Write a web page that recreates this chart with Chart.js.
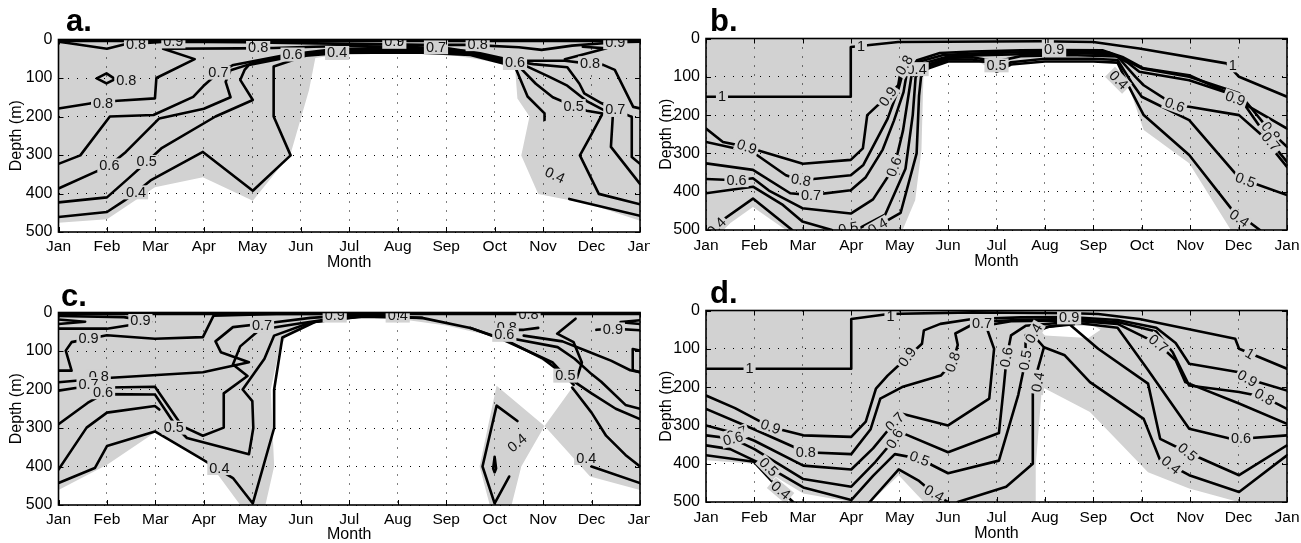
<!DOCTYPE html>
<html><head><meta charset="utf-8">
<script src="https://cdn.jsdelivr.net/npm/chart.js@4.4.1/dist/chart.umd.min.js"></script>
<style>
html,body{margin:0;padding:0;background:#fff;}
#root{position:relative;width:1301px;height:543px;overflow:hidden;background:#fff;}
canvas{position:absolute;}
.lt{position:absolute;font:bold 31px "Liberation Sans",Arial,sans-serif;line-height:30px;color:#000;}
</style></head><body><div id="root"></div>
<script>
// ---------- axis labels ----------
const monthLabels = ['Jan','Feb','Mar','Apr','May','Jun','Jul','Aug','Sep','Oct','Nov','Dec','Jan'];
const depthTicks = [0,100,200,300,400,500];

// ---------- panel a : [month, depth] ----------
const a_white = [[0,500],[0,476],[1,467],[1.99,384],[2.98,358],[4.01,419],[4.79,297],[5.17,131],[5.3,48],[5.9,37],[7,37],[8,38],[8.6,50],[9.42,70],[9.47,153],[9.72,200],[9.55,301],[9.9,401],[10.97,428],[12,471],[12,500]];
const a_top = [[0,2],[12,2]];
const a_c09 = [[0,6],[0.19,9],[1,24],[1.35,13],[2.2,6],[3.8,7],[5.3,10],[6.5,12],[7.5,14],[8.5,14],[9.5,20],[9.97,27],[10.6,16],[11.5,7],[12,6]];
const a_c08 = [[0,179],[0.65,166],[1.22,159],[1.99,153],[2.02,100],[2.81,51],[2.16,24],[3.71,23],[4.43,22],[5.26,19],[6,17],[7,19],[8,22],[8.7,36],[9.4,55],[10.45,55],[10.9,62],[11.24,66],[11.48,79],[11.86,175],[12,179]];
const a_c08b = [[10.45,51],[11.31,23],[10.82,19]];
const a_loop = [[0.79,101],[0.99,88],[1.17,103],[0.99,114],[0.79,101]];
const a_c07 = [[0,323],[0.45,301],[1.06,200],[1.96,196],[2.78,149],[2.99,121],[3.3,86],[3.61,66],[4.71,40],[5.5,28],[6.5,22],[7.5,24],[8.4,30],[9.1,50],[9.8,64],[10.5,72],[10.75,115],[10.85,140],[11.2,165],[11.49,183],[11.83,201],[11.83,305],[12,323]];
const a_c06 = [[0,387],[0.83,340],[1.05,327],[1.39,292],[2.08,205],[3.0,180],[3.55,150],[3.45,110],[3.55,80],[4.0,62],[4.83,39],[5.6,30],[6.5,27],[7.5,28],[8.5,34],[9.2,55],[9.6,66],[10.1,95],[10.5,120],[10.9,160],[11.44,196],[11.4,279],[12,375]];
const a_c05 = [[0,423],[1.0,410],[1.45,360],[1.82,318],[2.12,283],[3.24,200],[4.01,157],[3.75,105],[3.84,79],[3.93,66],[4.9,42],[5.7,33],[6.5,31],[7.5,31],[8.5,38],[9.3,62],[9.5,70],[9.85,115],[10.2,150],[10.63,173],[10.9,185],[11.23,192],[10.97,253],[10.76,301],[11.15,401],[12,428]];
const a_c04 = [[0,461],[1.0,448],[1.35,419],[1.6,397],[1.9,366],[2.98,292],[4.01,393],[4.79,301],[4.44,200],[4.44,70],[5.1,42],[5.8,35],[6.5,34],[7.5,34],[8.5,40],[9.42,70],[9.68,148],[10.03,192],[10.03,209]];
const a_c04b = [[10.54,414],[12,458]];
const a_labels = [['0.8',0.92,166,0],['0.8',1.4,106,0],['0.7',3.3,86,0],['0.8',4.12,22,0],['0.6',1.05,327,0],['0.5',1.82,318,0],['0.4',1.6,397,0],['0.6',4.83,39,0],['0.9',2.37,5,0],['0.8',1.6,12,0],['0.4',5.75,35,0],['0.9',6.93,6,0],['0.7',7.79,20,0],['0.8',8.65,12,0],['0.6',9.42,61,0],['0.5',10.63,173,0],['0.7',11.49,183,0],['0.8',10.97,62,0],['0.9',11.49,7,0],['0.4',10.24,353,25]];

// ---------- panel b ----------
const b_white1 = [[4.06,500],[4.32,422],[4.45,291],[4.49,100],[4.55,80],[4.83,64],[5.0,58],[5.6,58],[6.0,88],[6.4,66],[7.0,60],[8.0,60],[8.5,64],[8.7,113],[9.04,239],[9.98,326],[10.84,500]];
const b_white2 = [[0.3,500],[0.97,440],[1.65,500]];
const b_c10 = [[0,152],[2.99,152],[2.99,22],[3.97,9],[6.89,7],[8.0,9],[8.95,26],[10.75,65],[11.01,100],[12,152]];
const b_c09 = [[0,235],[0.35,270],[0.84,283],[2.0,327],[2.99,317],[3.24,287],[3.33,200],[3.55,174],[3.76,152],[3.97,122],[4.03,78],[4.15,65],[4.83,38],[5.5,34],[6.5,31],[7.19,30],[8.2,31],[8.6,48],[9.04,78],[9.98,96],[10.75,140],[10.93,157],[12,235]];
const b_c08 = [[0,270],[0.97,297],[1.65,357],[1.96,370],[2.99,357],[3.25,330],[3.5,270],[3.75,210],[3.98,130],[4.08,82],[4.25,66],[4.9,43],[5.5,39],[6.5,36],[7.5,34],[8.3,36],[8.65,55],[9.0,78],[9.98,100],[11.01,143],[11.66,243],[12,283]];
const b_c07 = [[0,326],[0.97,343],[1.74,404],[2.17,409],[2.99,396],[3.3,362],[3.65,290],[3.88,215],[4.08,140],[4.15,88],[4.35,70],[5.0,47],[5.5,44],[6.5,41],[7.5,38],[8.4,41],[8.7,62],[8.95,87],[9.98,109],[11.01,152],[11.66,270],[12,322]];
const b_c06 = [[0,367],[0.63,370],[0.97,365],[1.3,397],[1.99,443],[2.99,457],[3.45,420],[3.89,335],[4.07,240],[4.18,150],[4.25,92],[4.45,74],[5.0,51],[5.5,49],[6.0,60],[6.5,46],[7.5,43],[8.5,47],[8.87,100],[9.04,122],[9.68,174],[9.98,178],[11.01,200],[11.44,248],[12,335]];
const b_c05 = [[0,404],[0.97,387],[1.57,433],[1.99,478],[2.6,500]];
const b_c05b = [[3.1,500],[3.7,460],[4.12,340],[4.27,200],[4.33,100],[4.5,77],[5.0,55],[5.5,55],[5.9,64],[6.0,82],[6.3,62],[7.0,53],[8.0,53],[8.5,56],[8.78,113],[9.0,152],[9.98,213],[10.93,352],[11.14,370],[12,409]];
const b_c04 = [[0.05,500],[0.97,418],[1.78,500]];
const b_c04b = [[3.4,500],[4.02,455],[4.35,300],[4.4,150],[4.45,90],[4.6,78],[5.0,60],[5.8,60],[6.0,87],[6.3,68],[7.0,60],[8.0,60],[8.5,63],[8.7,117],[9.04,200],[9.98,304],[10.84,443],[11.44,500]];
const b_labels = [['1',0.33,152,0],['1',3.2,22,0],['1',7.06,7,0],['1',10.88,70,0],['0.9',0.84,283,20],['0.8',1.96,370,10],['0.7',2.17,409,0],['0.6',0.63,370,0],['0.4',0.22,492,-45],['0.9',3.76,152,-55],['0.6',3.89,335,-70],['0.4',3.55,491,-30],['0.5',2.94,496,-10],['0.9',7.19,30,0],['0.6',9.68,174,20],['0.9',10.93,157,20],['0.8',11.66,243,50],['0.7',11.66,270,50],['0.5',11.14,370,20],['0.4',11.01,470,35],['0.4',8.52,109,45],['0.4',4.35,80,0],['0.5',6.0,70,0],['0.8',4.1,70,-60]];

// ---------- panel c ----------
const c_white1 = [[0,500],[0,461],[1.01,395],[1.99,312],[3.07,384],[3.75,500]];
const c_white2 = [[4.27,500],[4.45,400],[4.38,200],[4.55,100],[4.7,60],[5.2,30],[6,13],[7,16],[8,34],[9,63],[9.5,90],[10.2,140],[10.63,190],[10.03,295],[9.04,190],[8.69,400],[8.9,500]];
const c_white3 = [[9.35,500],[9.55,400],[10.03,295],[10.97,426],[12,461],[12,500]];
const c_top = [[0,2],[12,2]];
const c_wedgeL = [[0,18],[0.55,24],[0,30]];
const c_wedgeR = [[12,20],[11.6,25],[12,30]];
const c_c09a = [[0,9],[1.35,12],[1.91,24],[1.0,42],[0,42]];
const c_c09c = [[0,151],[0.27,151],[0.15,99],[0.27,77],[1.0,59],[1.99,68],[2.98,64],[3.2,8],[4.5,4],[6,3]];
const c_c08 = [[0,181],[1.0,170],[2.98,155],[3.93,129],[3.35,103],[3.24,75],[3.6,38],[4.3,28],[5.2,14],[6.2,6],[7.2,8]];
const c_c07 = [[0,203],[0.35,196],[1.99,193],[2.55,295],[2.98,320],[3.41,299],[3.41,210],[3.9,165],[3.6,135],[3.75,88],[4.15,45],[4.9,30],[5.8,13],[6.6,9],[7.5,14]];
const c_c06 = [[0,290],[0.6,235],[0.92,212],[1.99,213],[2.45,300],[2.65,326],[3.93,368],[4.02,300],[4.0,230],[3.8,200],[4.25,120],[4.45,60],[5.2,26],[6.2,11],[7.2,12]];
const c_c05 = [[0,408],[0.58,299],[1.0,260],[1.99,243],[2.08,252]];
const c_c04 = [[0,443],[0.75,404],[1.0,347],[1.99,309],[2.98,382],[3.6,430],[4.01,496],[4.45,300],[4.45,200],[4.62,65],[5.3,24],[6.3,10],[7.5,14],[8.5,40],[9.2,72],[10.2,130],[10.63,188]];
const c_r1 = [[8.5,40],[9.2,70],[10.0,120],[10.46,164],[11.0,210],[11.5,250],[12,277]];
const c_r2 = [[9.3,66],[10.3,90],[10.65,120],[11.0,160],[11.2,180],[11.7,240],[12,250]];
const c_r3 = [[9.6,60],[10.4,75],[10.9,100],[11.4,125],[11.8,150],[12,155]];
const c_r4 = [[10.67,16],[10.29,55],[10.63,77],[10.8,130],[10.7,170]];
const c_r5 = [[11.1,45],[11.44,42],[12,46]];
const c_r6 = [[12,99],[11.85,95],[11.85,150],[12,155]];
const c_r8 = [[10.6,195],[11.0,260],[11.3,320],[11.7,370],[12,400]];
const c_r9 = [[11.0,400],[12,443]];
const c_r10 = [[9.1,45],[9.6,45],[9.9,40]];
const c_oct = [[9.47,282],[9.04,242],[8.75,400],[9.0,496],[9.3,426]];
const c_drop = [[9.0,375],[8.97,405],[9.0,415],[9.03,405],[9.0,375]];
const c_labels = [['0.9',1.69,22,0],['0.9',0.62,68,0],['0.8',0.83,165,0],['0.7',0.62,186,0],['0.6',0.92,207,0],['0.5',2.38,299,0],['0.4',3.32,404,0],['0.4',9.47,339,-40],['0.4',10.89,378,0],['0.9',11.44,44,0],['0.8',9.25,38,0],['0.6',9.2,58,0],['0.5',10.46,164,0],['0.9',5.7,8,0],['0.4',7.0,8,0],['0.8',9.7,6,0],['0.7',4.2,35,0]];

// ---------- panel d ----------
const d_white1 = [[0,500],[0,391],[0.99,400],[2.01,478],[3.0,500]];
const d_white2 = [[3.4,500],[3.98,430],[4.5,500]];
const d_white3 = [[6.81,500],[6.81,404],[6.94,200],[7.93,265],[9.13,422],[9.98,465],[11.0,500]];
const d_white4 = [[6.9,52],[7.1,40],[8.0,40],[8.15,50],[7.9,72],[7.0,65]];
const d_c10 = [[0,152],[3.0,152],[3.0,22],[3.77,9],[5.5,5],[7.58,7],[8.1,9],[8.95,22],[10.93,74],[11.01,100],[12,152]];
const d_c09 = [[0,222],[0.6,255],[1.33,304],[2.01,326],[3.0,330],[3.3,290],[3.51,204],[3.75,170],[4.16,122],[4.46,87],[4.5,52],[4.84,35],[5.5,22],[6.5,18],[7.5,17],[8.5,25],[9.3,45],[9.7,85],[9.98,139],[11.01,161],[11.18,178],[12,209]];
const d_c08 = [[0,257],[0.99,310],[2.06,370],[3.0,375],[3.4,310],[3.6,230],[4.05,200],[4.85,170],[5.1,135],[5.2,90],[5.15,60],[5.6,30],[6.5,24],[7.5,22],[8.5,30],[9.3,55],[9.64,109],[9.98,196],[11.01,213],[11.53,226],[12,257]];
const d_c07 = [[0,300],[0.64,322],[1.0,340],[2.01,405],[3.0,415],[3.45,360],[3.9,291],[4.07,270],[5.0,300],[5.85,230],[5.95,100],[5.78,39],[6.3,28],[7.5,26],[8.5,35],[9.34,87],[9.7,130],[9.9,187],[11.01,243],[12,296]];
const d_c06 = [[0,326],[0.56,335],[1.0,362],[2.01,440],[3.0,460],[3.5,395],[3.9,335],[4.1,322],[5.0,370],[6.05,320],[6.15,200],[6.21,122],[6.3,65],[6.6,40],[7.5,30],[8.5,45],[9.1,150],[9.98,309],[10.84,335],[11.05,335],[12,326]];
const d_c05 = [[0,352],[0.5,362],[1.0,392],[1.29,409],[2.01,462],[3.0,495],[3.45,432],[3.9,375],[4.41,387],[5.0,425],[6.05,392],[6.45,220],[6.6,130],[6.6,65],[6.9,45],[7.5,35],[8.1,100],[9.13,191],[9.38,335],[9.94,370],[10.24,387],[11.01,430],[12,352]];
const d_c04 = [[0,378],[0.99,395],[1.54,470],[1.8,500]];
const d_c04b = [[3.38,500],[3.98,415],[4.4,445],[4.71,478],[5.0,500]];
const d_c04c = [[5.2,500],[6.2,460],[6.75,400],[6.75,200],[6.86,150],[6.98,96],[7.41,117],[7.93,187],[9.04,283],[9.38,391],[9.6,404],[9.98,430],[11.01,474],[12,378]];
const d_c04d = [[6.98,96],[6.8,70],[6.85,52],[7.1,42],[7.6,36]];
const d_labels = [['1',0.9,152,0],['1',3.81,15,0],['1',7.58,7,0],['1',11.23,113,30],['0.9',1.33,304,20],['0.8',2.06,370,0],['0.7',0.64,322,-20],['0.6',0.56,335,-15],['0.5',1.29,409,45],['0.4',1.54,470,40],['0.9',4.16,122,-55],['0.8',5.1,135,-70],['0.7',3.9,291,-45],['0.6',3.9,335,-60],['0.5',4.41,387,20],['0.4',4.71,478,30],['0.7',5.7,35,0],['0.6',6.21,122,-80],['0.5',6.6,130,-80],['0.4',6.86,187,-80],['0.9',11.18,178,30],['0.8',11.53,226,30],['0.6',11.05,335,0],['0.5',9.94,370,40],['0.4',9.6,404,40],['0.7',9.34,87,40],['0.4',6.77,60,-60],['0.9',7.5,18,0]];

// ---------- layout / style ----------
const GRAY = '#d2d2d2';
const FONT = '"Liberation Sans", Arial, Helvetica, sans-serif';
Chart.defaults.font.family = FONT;

const panels = [
  {letter:'a.', box:[0,0,650,272], area:[58.5,39.5,640,232], letterPos:[66,5.6], tickPad:5.5, titlePad:1,
   white:[a_white], lines:[a_c09,a_c08,a_c08b,a_loop,a_c07,a_c06,a_c05,a_c04,a_c04b], thick:[a_top], labels:a_labels},
  {letter:'b.', box:[650,0,651,272], area:[56,38.5,637,230], letterPos:[710,5.6], tickPad:6, titlePad:2,
   white:[b_white1,b_white2], lines:[b_c10,b_c09,b_c08,b_c07,b_c06,b_c05,b_c05b,b_c04,b_c04b], thick:[], labels:b_labels},
  {letter:'c.', box:[0,272,650,271], area:[58.5,40.5,640,233], letterPos:[61,281], tickPad:5, titlePad:0,
   white:[c_white1,c_white2,c_white3], lines:[c_wedgeL,c_wedgeR,c_c09a,c_c09c,c_c08,c_c07,c_c06,c_c05,c_c04,c_r1,c_r2,c_r3,c_r4,c_r5,c_r6,c_r8,c_r9,c_r10,c_oct,c_drop], thick:[c_top], labels:c_labels},
  {letter:'d.', box:[650,272,651,271], area:[56,38.5,637,230], letterPos:[710,278], tickPad:6, titlePad:1,
   white:[d_white1,d_white2,d_white3,d_white4], lines:[d_c10,d_c09,d_c08,d_c07,d_c06,d_c05,d_c04,d_c04b,d_c04c,d_c04d], thick:[], labels:d_labels}
];

const root = document.getElementById('root');
const toPts = arr => arr.map(p => ({x:p[0], y:p[1]}));

panels.forEach(p => {
  const [bx,by,bw,bh] = p.box;
  const [al,at,ar,ab] = p.area;
  const cv = document.createElement('canvas');
  cv.width = bw; cv.height = bh;
  cv.style.left = bx+'px'; cv.style.top = by+'px';
  cv.style.width = bw+'px'; cv.style.height = bh+'px';
  root.appendChild(cv);
  const lt = document.createElement('div');
  lt.className = 'lt'; lt.textContent = p.letter;
  lt.style.left = p.letterPos[0]+'px'; lt.style.top = p.letterPos[1]+'px';
  root.appendChild(lt);

  const ds = [];
  p.white.forEach(w => ds.push({data:toPts(w), borderWidth:0, borderColor:'rgba(0,0,0,0)', backgroundColor:'#ffffff', fill:'shape', pointRadius:0, tension:0, order:10}));
  p.lines.forEach(l => ds.push({data:toPts(l), borderColor:'#000', borderWidth:2.6, fill:false, pointRadius:0, tension:0, borderJoinStyle:'round', borderCapStyle:'round', order:1}));
  p.thick.forEach(l => ds.push({data:toPts(l), borderColor:'#000', borderWidth:4, fill:false, pointRadius:0, tension:0, order:1}));

  const deco = {
    id:'deco'+p.letter,
    beforeDatasetsDraw(chart){
      const {ctx, chartArea:a} = chart;
      ctx.save(); ctx.fillStyle = GRAY;
      ctx.fillRect(a.left, a.top, a.right-a.left, a.bottom-a.top);
      ctx.restore();
    },
    afterDraw(chart){
      const {ctx, chartArea:a} = chart;
      const xs = chart.scales.x, ys = chart.scales.y;
      ctx.save();
      ctx.beginPath(); ctx.rect(a.left, a.top, a.right-a.left, a.bottom-a.top); ctx.clip();
      ctx.font = '14.5px ' + FONT;
      ctx.textAlign = 'center'; ctx.textBaseline = 'middle';
      p.labels.forEach(([t,m,d,ang]) => {
        const x = xs.getPixelForValue(m), y = ys.getPixelForValue(d);
        ctx.save(); ctx.translate(x,y); ctx.rotate(ang*Math.PI/180);
        const w = ctx.measureText(t).width;
        ctx.fillStyle = GRAY; ctx.fillRect(-w/2-2, -7, w+4, 14);
        ctx.fillStyle = '#111'; ctx.fillText(t, 0, 0.5);
        ctx.restore();
      });
      ctx.restore();
      ctx.save();
      ctx.strokeStyle = '#000'; ctx.lineWidth = 1;
      ctx.beginPath();
      xs.ticks.forEach(tk => {
        const x = Math.round(xs.getPixelForValue(tk.value)) + 0.5;
        ctx.moveTo(x, a.bottom); ctx.lineTo(x, a.bottom-5);
        ctx.moveTo(x, a.top); ctx.lineTo(x, a.top+5);
      });
      ys.ticks.forEach(tk => {
        const y = Math.round(ys.getPixelForValue(tk.value)) + 0.5;
        ctx.moveTo(a.left, y); ctx.lineTo(a.left+5, y);
        ctx.moveTo(a.right, y); ctx.lineTo(a.right-5, y);
      });
      ctx.stroke();
      ctx.lineWidth = 1.6;
      ctx.strokeRect(a.left, a.top, a.right-a.left, a.bottom-a.top);
      ctx.restore();
    }
  };

  new Chart(cv, {
    type:'line',
    data:{datasets:ds},
    options:{
      responsive:false, animation:false, events:[],
      layout:{padding:{top:at, right:bw-ar, left:0, bottom:0}},
      plugins:{legend:{display:false}, tooltip:{enabled:false}},
      scales:{
        x:{type:'linear', min:0, max:12, position:'bottom',
           afterFit:s => {s.height = bh-ab; s.paddingLeft = 0; s.paddingRight = 0;},
           afterBuildTicks:s => {s.ticks = monthLabels.map((_,i)=>({value:i}));},
           ticks:{autoSkip:false, maxRotation:0, color:'#000', font:{size:15.5}, padding:p.tickPad, callback:v => monthLabels[v]},
           grid:{color:'#000', lineWidth:1, drawTicks:false, z:1},
           border:{display:false, dash:[1,8]},
           title:{display:true, text:'Month', color:'#000', font:{size:16, lineHeight:1}, padding:{top:0, bottom:p.titlePad}}},
        y:{type:'linear', min:0, max:500, reverse:true,
           afterFit:s => {s.width = al; s.paddingTop = 0; s.paddingBottom = 0;},
           afterBuildTicks:s => {s.ticks = depthTicks.map(v=>({value:v}));},
           ticks:{color:'#000', font:{size:16}, padding:6},
           grid:{color:'#000', lineWidth:1, drawTicks:false, z:1},
           border:{display:false, dash:[1,8]},
           title:{display:true, text:'Depth (m)', color:'#000', font:{size:16, lineHeight:1}, padding:{top:9, bottom:0}}}
      }
    },
    plugins:[deco]
  });
});
</script></body></html>
